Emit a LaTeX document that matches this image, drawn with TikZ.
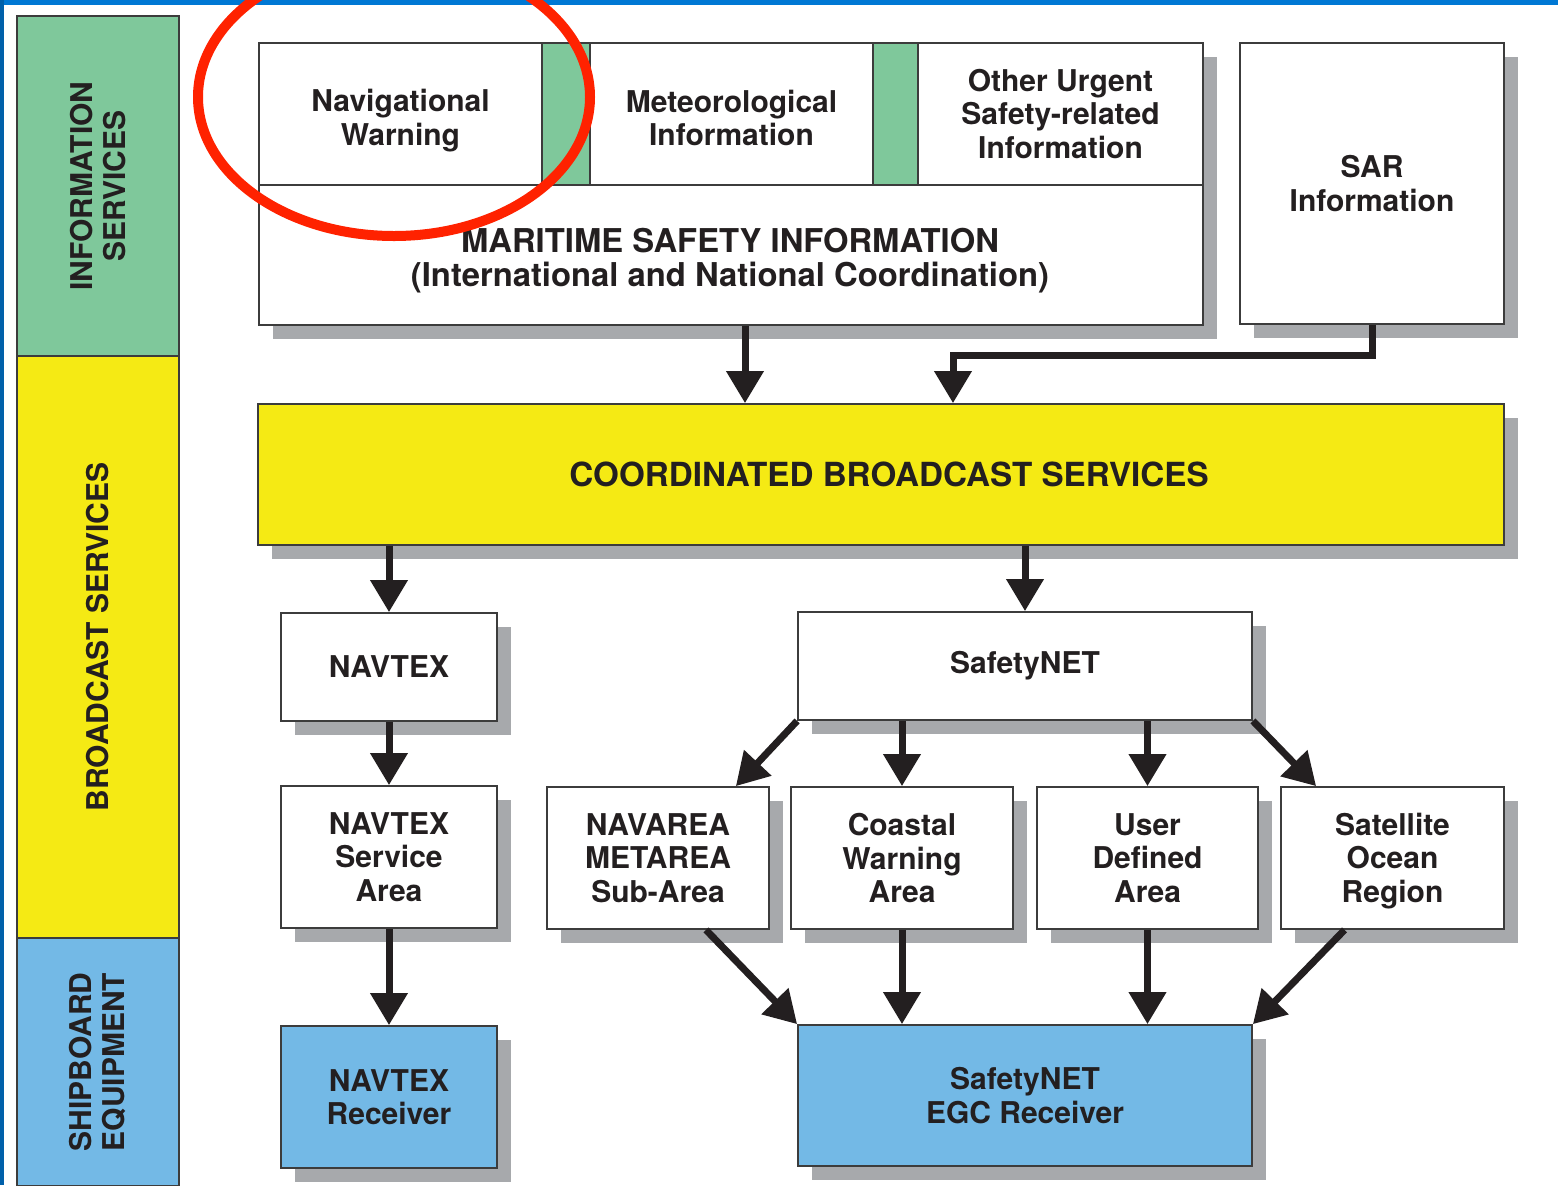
\documentclass[tikz,border=0pt]{standalone}
\usepackage{fontspec}
\setmainfont{TeX Gyre Heros}
\usetikzlibrary{arrows.meta,shadows}
\definecolor{infogreen}{RGB}{127,200,155}
\definecolor{bcyellow}{RGB}{245,234,20}
\definecolor{eqblue}{RGB}{115,185,230}
\definecolor{shadowgray}{RGB}{167,169,172}
\definecolor{inkblack}{RGB}{35,31,32}
\definecolor{linegray}{RGB}{60,60,60}
\definecolor{frameblue}{RGB}{0,120,212}
\definecolor{markred}{RGB}{255,34,0}

\begin{document}
\begin{tikzpicture}[x=0.5pt,y=-0.5pt,
  box/.style={draw=linegray,line width=0.9pt,fill=white,inner sep=0pt,align=center,text=inkblack,font=\bfseries\fontsize{15}{16.8}\selectfont},
  shbox/.style={box,drop shadow={shadow xshift=7pt,shadow yshift=-7pt,fill=shadowgray,opacity=1}},
  band/.style={draw=linegray,line width=0.9pt,inner sep=0pt,align=center,rotate=90,text=inkblack,font=\bfseries\fontsize{15}{16.5}\selectfont,minimum height=81pt},
  arr/.style={draw=inkblack,line width=3.5pt,line join=miter,-{Triangle[width=18pt,length=16pt]}}]
    \useasboundingbox (0,0) rectangle (1558,1185);
    \clip (0,0) rectangle (1558,1185);
    \fill[white] (0,0) rectangle (1558,1185);
    \node [band,fill=infogreen,minimum width=170pt] (info) at (98,186) {INFORMATION\\SERVICES};
    \node [band,fill=bcyellow,minimum width=291pt] (bcast) at (98,647) {\hspace*{10pt}BROADCAST SERVICES};
    \node [band,fill=eqblue,minimum width=124pt] (ship) at (98,1062) {SHIPBOARD\\EQUIPMENT};
    \node [shbox,minimum width=472pt,minimum height=141pt] (msi) at (731,184) {};
    \node [box,minimum width=141.5pt,minimum height=71pt] (nav) at (400.5,114) {\rule{0pt}{18pt}Navigational\\Warning};
    \node [box,fill=infogreen,minimum width=24pt,minimum height=71pt] (gap1) at (566,114) {};
    \node [box,minimum width=141.5pt,minimum height=71pt] (met) at (731.5,114) {\rule{0pt}{15pt}Meteorological\\Information};
    \node [box,fill=infogreen,minimum width=22.5pt,minimum height=71pt] (gap2) at (895.5,114) {};
    \node [box,minimum width=142.5pt,minimum height=71pt] (oth) at (1060.5,114) {Other Urgent\\Safety-related\\Information};
    \node [align=center,text=inkblack,font=\bfseries\fontsize{16.4}{17}\selectfont] (msitext) at (730,261) {MARITIME SAFETY INFORMATION\\(International and National Coordination)};
    \node [shbox,minimum width=132pt,minimum height=140.5pt] (sar) at (1372,183.5) {SAR\\Information};
    \node [shbox,fill=bcyellow,minimum width=623pt,minimum height=70.5pt,font=\bfseries\fontsize{16.6}{18}\selectfont] (cbs) at (881,474.5) {\hspace*{8pt}COORDINATED BROADCAST SERVICES};
    \node [shbox,minimum width=108pt,minimum height=54pt] (navtex) at (389,667) {NAVTEX};
    \node [shbox,minimum width=227pt,minimum height=54pt] (snet) at (1025,666) {SafetyNET};
    \node [shbox,minimum width=108pt,minimum height=71pt] (nsa) at (389,857) {NAVTEX\\Service\\Area};
    \node [shbox,minimum width=111pt,minimum height=71pt] (nava) at (658,858) {NAVAREA\\METAREA\\Sub-Area};
    \node [shbox,minimum width=111pt,minimum height=71pt] (coast) at (902,858) {Coastal\\Warning\\Area};
    \node [shbox,minimum width=110.5pt,minimum height=71pt] (user) at (1147.5,858) {User\\Defined\\Area};
    \node [shbox,minimum width=111.5pt,minimum height=71pt] (sat) at (1392.5,858) {\rule{0pt}{14pt}Satellite\\Ocean\\Region};
    \node [shbox,fill=eqblue,minimum width=108pt,minimum height=71pt] (nrx) at (389,1097) {NAVTEX\\Receiver};
    \node [shbox,fill=eqblue,minimum width=227pt,minimum height=70.5pt] (egc) at (1025,1095.5) {SafetyNET\\EGC Receiver};
    \draw [arr] ([xshift=7pt]msi.south) -- ([xshift=7pt]msi.south |- cbs.north);
    \draw [arr] (sar.south) -- ++(0,31) -| ([xshift=36pt]cbs.north);
    \draw [arr] (cbs.south -| navtex.north) -- (navtex.north);
    \draw [arr] (cbs.south -| snet.north) -- (snet.north);
    \draw [arr] (navtex) -- (nsa);
    \draw [arr] (nsa) -- (nrx);
    \draw [arr] (snet.south west) -- ([xshift=-17pt]nava.north east);
    \draw [arr] (snet.south -| coast.north) -- (coast.north);
    \draw [arr] (snet.south -| user.north) -- (user.north);
    \draw [arr] (snet.south east) -- ([xshift=18pt]sat.north west);
    \draw [arr] ([xshift=24pt]nava.south) -- (egc.north west);
    \draw [arr] (coast.south) -- (coast.south |- egc.north);
    \draw [arr] (user.south) -- (user.south |- egc.north);
    \draw [arr] ([xshift=-24pt]sat.south) -- (egc.north east);
    \fill [frameblue] (0,0) rectangle (1558,5);
    \fill [frameblue!80!black] (0,0) rectangle (4,1185);
    \draw [markred,line width=5pt] (394,97) ellipse [x radius=196,y radius=139];
\end{tikzpicture}
\end{document}
